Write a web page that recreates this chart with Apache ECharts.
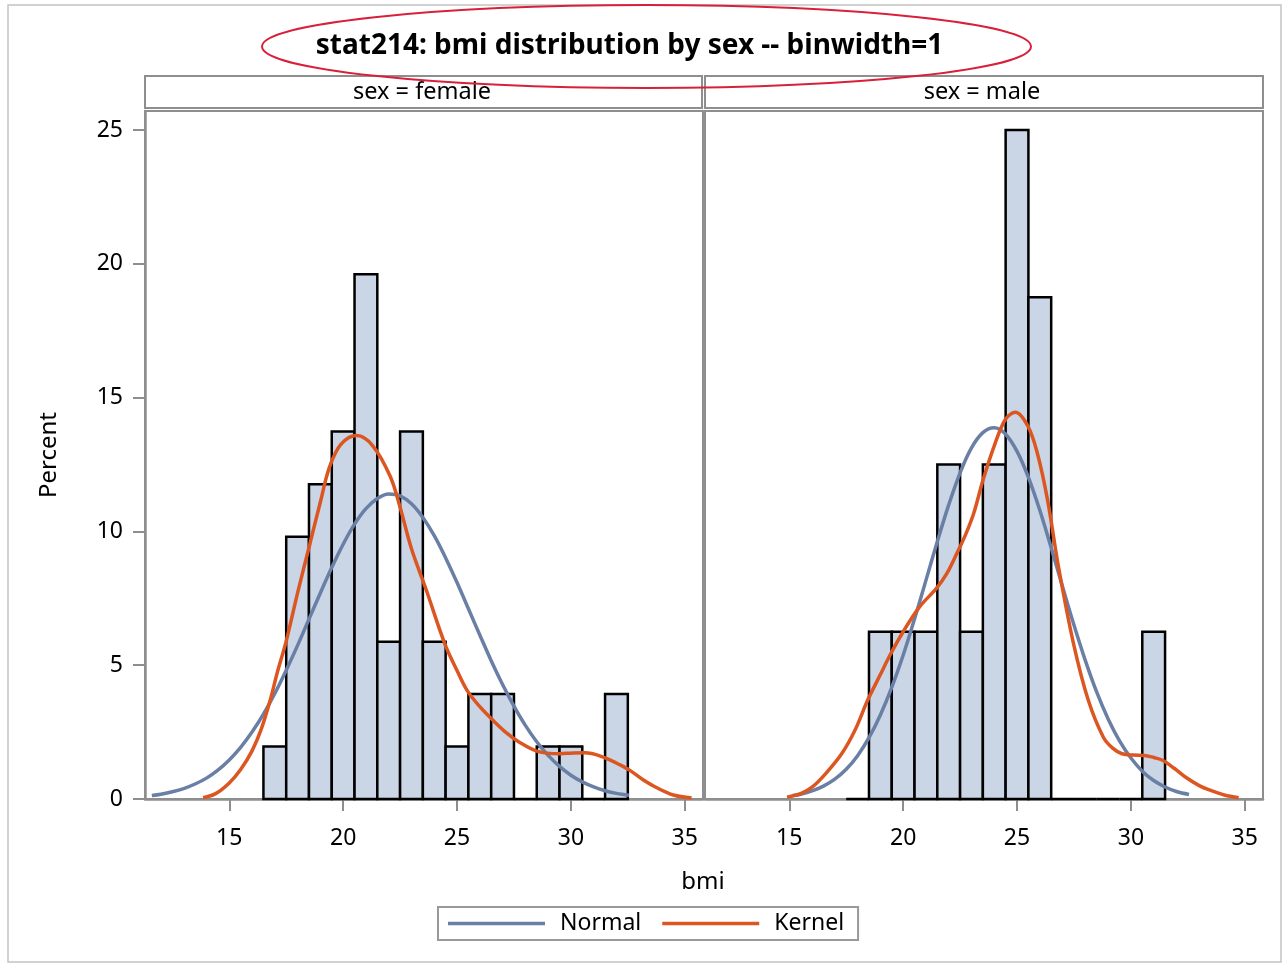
<!DOCTYPE html>
<html>
<head>
<meta charset="utf-8">
<script src="https://cdn.jsdelivr.net/npm/echarts@6/dist/echarts.min.js"></script>
<style>
  html, body { margin: 0; padding: 0; background: #fff; }
  #chart { width: 1285px; height: 964px; }
</style>
</head>
<body>
<div id="chart"></div>
<script>
// ---------------- DATA ----------------
const TITLE = 'stat214: bmi distribution by sex -- binwidth=1';
const PANELS = ['sex = female', 'sex = male'];
const X_TICKS = [15, 20, 25, 30, 35];
const Y_TICKS = [0, 5, 10, 15, 20, 25];
const BINWIDTH = 1;

// histogram (percent per bmi bin, bins centred on integers)
const femaleBins = [17, 18, 19, 20, 21, 22, 23, 24, 25, 26, 27, 28, 29, 30, 31, 32];
const femalePct  = [1.96, 9.80, 11.76, 13.73, 19.61, 5.88, 13.73, 5.88, 1.96, 3.92, 3.92, 0, 1.96, 1.96, 0, 3.92];
const maleBins   = [18, 19, 20, 21, 22, 23, 24, 25, 26, 27, 28, 29, 30, 31];
const malePct    = [0, 6.25, 6.25, 6.25, 12.5, 6.25, 12.5, 25, 18.75, 0, 0, 0, 0, 6.25];

// normal density curves
const femaleNormalX = [11.6, 12, 12.5, 13, 13.5, 14, 14.5, 15, 15.5, 16, 16.5, 17, 17.5, 18, 18.5, 19, 19.5, 20, 20.5, 21, 21.5, 22, 22.5, 23, 23.5, 24, 24.5, 25, 25.5, 26, 26.5, 27, 27.5, 28, 28.5, 29, 29.5, 30, 30.5, 31, 31.5, 32, 32.55];
const femaleNormalY = [0.13, 0.18, 0.27, 0.39, 0.56, 0.78, 1.08, 1.46, 1.93, 2.50, 3.17, 3.94, 4.81, 5.74, 6.72, 7.70, 8.65, 9.52, 10.27, 10.85, 11.23, 11.40, 11.33, 11.03, 10.52, 9.84, 9.01, 8.09, 7.11, 6.13, 5.17, 4.28, 3.47, 2.75, 2.14, 1.63, 1.22, 0.89, 0.64, 0.45, 0.31, 0.21, 0.14];
const maleNormalX = [15.15, 15.5, 16, 16.5, 17, 17.5, 18, 18.5, 19, 19.5, 20, 20.5, 21, 21.5, 22, 22.5, 23, 23.5, 24, 24.5, 25, 25.5, 26, 26.5, 27, 27.5, 28, 28.5, 29, 29.5, 30, 30.5, 31, 31.5, 32, 32.55];
const maleNormalY = [0.13, 0.18, 0.30, 0.48, 0.74, 1.11, 1.62, 2.29, 3.14, 4.17, 5.37, 6.73, 8.17, 9.62, 10.99, 12.19, 13.12, 13.69, 13.87, 13.63, 12.99, 12.02, 10.79, 9.39, 7.93, 6.50, 5.17, 3.99, 2.99, 2.17, 1.53, 1.04, 0.69, 0.45, 0.28, 0.17];

// kernel density curves
const femaleKernelX = [13.85, 14.4, 15.0, 15.5, 16.0, 16.4, 16.8, 17.1, 17.5, 18.0, 18.5, 19.0, 19.4, 19.9, 20.6, 21.3, 22.07, 22.5, 23.0, 23.65, 24.46, 25.0, 25.44, 26.0, 26.58, 27.2, 27.72, 28.53, 29.5, 30.1, 30.64, 31.1, 31.61, 32.1, 32.59, 33.2, 33.73, 34.5, 35.3];
const femaleKernelY = [0.05, 0.2, 0.6, 1.1, 1.8, 2.6, 3.7, 4.7, 5.9, 7.7, 9.4, 11.1, 12.4, 13.25, 13.58, 13.2, 12.05, 10.9, 9.35, 7.81, 5.81, 4.8, 4.06, 3.45, 2.94, 2.45, 2.13, 1.78, 1.69, 1.72, 1.73, 1.66, 1.5, 1.3, 1.07, 0.7, 0.44, 0.15, 0.04];
const maleKernelX = [14.9, 15.5, 16.0, 16.6, 17.3, 17.9, 18.44, 19.0, 19.42, 20.0, 20.72, 21.46, 21.9, 22.36, 22.75, 23.1, 23.5, 24.0, 24.5, 24.93, 25.48, 25.89, 26.34, 26.82, 27.48, 28.13, 28.79, 29.2, 29.61, 30.1, 30.59, 31.0, 31.41, 31.9, 32.39, 33.0, 33.5, 34.1, 34.73];
const maleKernelY = [0.07, 0.2, 0.44, 0.95, 1.69, 2.6, 3.69, 4.65, 5.37, 6.25, 7.18, 7.87, 8.4, 9.18, 9.9, 10.68, 11.9, 13.2, 14.2, 14.45, 13.93, 12.93, 11.18, 8.68, 5.81, 3.69, 2.31, 1.9, 1.69, 1.64, 1.63, 1.55, 1.44, 1.15, 0.82, 0.5, 0.32, 0.15, 0.05];

// ---------------- STYLE ----------------
const FONT = '"Noto Sans", "Open Sans", sans-serif';
const GRAY = '#8e8e8e';
const BAR_FILL = '#cad5e5';
const NORMAL_C = '#6a7fa5';
const KERNEL_C = '#dc5621';
const X_MIN = 11.3, X_MAX = 35.8, Y_MIN = 0, Y_MAX = 25.71;

const zip = (xs, ys) => xs.map((x, i) => [x, ys[i]]);

function histSeries(idx, bins, pct) {
  return {
    type: 'custom', name: 'Histogram', xAxisIndex: idx, yAxisIndex: idx, z: 2,
    data: zip(bins, pct),
    renderItem: function (params, api) {
      const c = api.value(0), v = api.value(1);
      const p0 = api.coord([c - BINWIDTH / 2, v]);
      const p1 = api.coord([c + BINWIDTH / 2, 0]);
      return {
        type: 'rect',
        shape: { x: p0[0], y: p0[1], width: p1[0] - p0[0], height: p1[1] - p0[1] },
        style: { fill: BAR_FILL, stroke: '#000', lineWidth: 2.5 }
      };
    }
  };
}
function curve(idx, name, xs, ys, color) {
  return {
    type: 'line', name: name, xAxisIndex: idx, yAxisIndex: idx, z: 3,
    data: zip(xs, ys), showSymbol: false, symbol: 'none', smooth: 0.35,
    lineStyle: { color: color, width: 3.5 }, itemStyle: { color: color },
    animation: false
  };
}
function xAxisDef(idx) {
  return {
    type: 'value', gridIndex: idx, min: X_MIN, max: X_MAX,
    axisLine: { show: true, onZero: false, lineStyle: { color: GRAY, width: 2.5 } },
    axisTick: { show: true, customValues: X_TICKS, length: 12, lineStyle: { color: GRAY, width: 2 } },
    axisLabel: { customValues: X_TICKS, color: '#000', fontSize: 23, fontFamily: FONT, margin: 28 },
    splitLine: { show: false }
  };
}

const grids = [
  { left: 145, top: 111, width: 558, height: 688, show: true, borderColor: GRAY, borderWidth: 2, backgroundColor: 'transparent' },
  { left: 705, top: 111, width: 558, height: 688, show: true, borderColor: GRAY, borderWidth: 2, backgroundColor: 'transparent' }
];

const option = {
  animation: false,
  backgroundColor: '#fff',
  textStyle: { fontFamily: FONT },
  grid: grids,
  xAxis: [xAxisDef(0), xAxisDef(1)],
  yAxis: [
    {
      type: 'value', gridIndex: 0, min: Y_MIN, max: Y_MAX,
      name: 'Percent', nameLocation: 'middle', nameGap: 84,
      nameTextStyle: { color: '#000', fontSize: 24, fontFamily: FONT },
      axisLine: { show: true, lineStyle: { color: GRAY, width: 2.5 } },
      axisTick: { show: true, customValues: Y_TICKS, length: 12, lineStyle: { color: GRAY, width: 2 } },
      axisLabel: { customValues: Y_TICKS, color: '#000', fontSize: 23, fontFamily: FONT, margin: 22 },
      splitLine: { show: false }
    },
    {
      type: 'value', gridIndex: 1, min: Y_MIN, max: Y_MAX,
      axisLine: { show: false }, axisTick: { show: false }, axisLabel: { show: false },
      splitLine: { show: false }
    }
  ],
  legend: {
    data: ['Normal', 'Kernel'],
    left: 438, top: 907,
    orient: 'horizontal',
    icon: 'rect', itemWidth: 97, itemHeight: 3.5, itemGap: 21,
    padding: [5, 14, 5, 10],
    borderColor: '#999', borderWidth: 2,
    textStyle: { color: '#000', fontSize: 23, fontFamily: FONT, padding: [0, 0, 0, 10] },
    selectedMode: false
  },
  series: [
    histSeries(0, femaleBins, femalePct),
    curve(0, 'Normal', femaleNormalX, femaleNormalY, NORMAL_C),
    curve(0, 'Kernel', femaleKernelX, femaleKernelY, KERNEL_C),
    histSeries(1, maleBins, malePct),
    curve(1, 'Normal', maleNormalX, maleNormalY, NORMAL_C),
    curve(1, 'Kernel', maleKernelX, maleKernelY, KERNEL_C)
  ],
  graphic: [
    { type: 'rect', silent: true, z: 0, shape: { x: 8, y: 5, width: 1273, height: 957 },
      style: { fill: 'none', stroke: '#c4c4c4', lineWidth: 1.5 } },
    { type: 'text', z: 10, x: 629.5, y: 46,
      style: { text: TITLE, fill: '#000', fontSize: 28, fontWeight: 'bold', fontFamily: FONT, align: 'center', verticalAlign: 'middle' } },
    { type: 'rect', z: 5, shape: { x: 145, y: 76, width: 557, height: 32 },
      style: { fill: 'none', stroke: GRAY, lineWidth: 2 } },
    { type: 'rect', z: 5, shape: { x: 705, y: 76, width: 558, height: 32 },
      style: { fill: 'none', stroke: GRAY, lineWidth: 2 } },
    { type: 'text', z: 6, x: 422, y: 92,
      style: { text: PANELS[0], fill: '#000', fontSize: 23.5, fontFamily: FONT, align: 'center', verticalAlign: 'middle' } },
    { type: 'text', z: 6, x: 982, y: 92,
      style: { text: PANELS[1], fill: '#000', fontSize: 23.5, fontFamily: FONT, align: 'center', verticalAlign: 'middle' } },
    { type: 'text', z: 6, x: 703, y: 882,
      style: { text: 'bmi', fill: '#000', fontSize: 24, fontFamily: FONT, align: 'center', verticalAlign: 'middle' } },
    { type: 'ellipse', z: 20, silent: true, shape: { cx: 646.5, cy: 46.5, rx: 384.5, ry: 41.5 },
      style: { fill: 'none', stroke: '#d9203a', lineWidth: 2 } }
  ]
};

const chart = echarts.init(document.getElementById('chart'), null, { renderer: 'canvas' });
chart.setOption(option);
</script>
</body>
</html>
